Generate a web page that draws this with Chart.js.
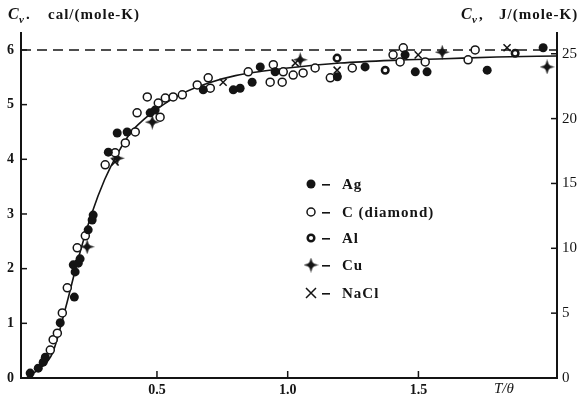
<!DOCTYPE html>
<html>
<head>
<meta charset="utf-8">
<script src="https://cdn.jsdelivr.net/npm/chart.js@4.4.0/dist/chart.umd.min.js"></script>
<style>
  body { margin: 0; background: #fff; }
  #wrap { width: 579px; height: 395px; }
</style>
</head>
<body>
<div id="wrap"><canvas id="myChart" width="579" height="395"></canvas></div>
<script>
// Debye curve (T/θ, Cv cal/(mole-K))
let curveX = [0, 0.05, 0.1, 0.15, 0.2, 0.25, 0.3, 0.35, 0.4, 0.45, 0.5, 0.6, 0.7, 0.8, 0.9, 1.0, 1.2, 1.4, 1.6, 1.8, 2.03];
let curveY = [0, 0.17, 0.45, 1.27, 2.20, 3.00, 3.63, 4.11, 4.49, 4.73, 4.92, 5.21, 5.40, 5.53, 5.61, 5.67, 5.76, 5.81, 5.84, 5.87, 5.89];

// classical limit 3R
let limitX = [-0.02, 2.03];
let limitY = [6, 6];

// measured points
let agX = [0.015, 0.046, 0.065, 0.073, 0.13, 0.184, 0.187, 0.18, 0.199, 0.206, 0.237, 0.252, 0.256, 0.314, 0.348, 0.386, 0.474, 0.493, 0.677, 0.792, 0.818, 0.864, 0.895, 0.952, 1.19, 1.296, 1.449, 1.488, 1.533, 1.763, 1.977];
let agY = [0.09, 0.18, 0.29, 0.38, 1.01, 1.48, 1.94, 2.07, 2.10, 2.18, 2.71, 2.89, 2.98, 4.13, 4.48, 4.50, 4.85, 4.90, 5.27, 5.27, 5.30, 5.41, 5.69, 5.60, 5.51, 5.69, 5.91, 5.60, 5.60, 5.63, 6.04];

let cX = [0.092, 0.103, 0.119, 0.138, 0.157, 0.195, 0.226, 0.302, 0.34, 0.379, 0.417, 0.424, 0.512, 0.463, 0.505, 0.532, 0.562, 0.597, 0.654, 0.696, 0.704, 0.849, 0.933, 0.945, 0.979, 0.983, 1.021, 1.059, 1.105, 1.163, 1.247, 1.403, 1.43, 1.442, 1.526, 1.69, 1.717];
let cY = [0.51, 0.70, 0.82, 1.19, 1.65, 2.38, 2.60, 3.90, 4.12, 4.30, 4.50, 4.85, 4.77, 5.14, 5.03, 5.12, 5.14, 5.18, 5.36, 5.49, 5.30, 5.60, 5.41, 5.73, 5.41, 5.60, 5.54, 5.58, 5.67, 5.49, 5.67, 5.91, 5.78, 6.04, 5.78, 5.82, 6.00];

let alX = [1.189, 1.373, 1.87];
let alY = [5.85, 5.63, 5.94];

let cuX = [0.233, 0.348, 0.482, 1.048, 1.591, 1.992];
let cuY = [2.40, 4.02, 4.68, 5.82, 5.96, 5.69];

let naclX = [0.34, 0.753, 1.029, 1.189, 1.499, 1.839];
let naclY = [3.95, 5.41, 5.76, 5.63, 5.91, 6.04];

// axes
let xTicks = [0.5, 1.0, 1.5];
let xTickLabels = ['0.5', '1.0', '1.5'];
let yTicks = [0, 1, 2, 3, 4, 5, 6];
let y2Ticks = [0, 5, 10, 15, 20, 25];

let legendNames = ['Ag', 'C (diamond)', 'Al', 'Cu', 'NaCl'];

const ink = '#141414';
const pts = (xs, ys) => xs.map((x, i) => ({x: x, y: ys[i]}));

// copper marker: little filled four point star
let cuMark = document.createElement('canvas');
cuMark.width = 15; cuMark.height = 15;
(function () {
  let c = cuMark.getContext('2d');
  c.fillStyle = ink;
  c.beginPath();
  c.moveTo(7.5, 0); c.lineTo(9.3, 5.7); c.lineTo(15, 7.5); c.lineTo(9.3, 9.3);
  c.lineTo(7.5, 15); c.lineTo(5.7, 9.3); c.lineTo(0, 7.5); c.lineTo(5.7, 5.7);
  c.closePath(); c.fill();
  c.beginPath(); c.arc(7.5, 7.5, 3, 0, Math.PI * 2); c.fill();
})();

function drawMark(ctx, kind, x, y) {
  ctx.save();
  ctx.strokeStyle = ink; ctx.fillStyle = ink;
  if (kind === 0) {
    ctx.beginPath(); ctx.arc(x, y, 4.5, 0, Math.PI * 2); ctx.fill();
  } else if (kind === 1) {
    ctx.lineWidth = 1.5; ctx.fillStyle = '#fff';
    ctx.beginPath(); ctx.arc(x, y, 4, 0, Math.PI * 2); ctx.fill(); ctx.stroke();
  } else if (kind === 2) {
    ctx.lineWidth = 2.5; ctx.fillStyle = '#fff';
    ctx.beginPath(); ctx.arc(x, y, 3.3, 0, Math.PI * 2); ctx.fill(); ctx.stroke();
  } else if (kind === 3) {
    ctx.drawImage(cuMark, x - 7.5, y - 7.5);
  } else {
    ctx.lineWidth = 1.5;
    ctx.beginPath();
    ctx.moveTo(x - 5, y - 5); ctx.lineTo(x + 5, y + 5);
    ctx.moveTo(x + 5, y - 5); ctx.lineTo(x - 5, y + 5);
    ctx.stroke();
  }
  ctx.restore();
}

const extras = {
  id: 'extras',
  afterDraw(chart) {
    const ctx = chart.ctx;
    const xs = chart.scales.x, ys = chart.scales.y, y2 = chart.scales.y2;
    ctx.save();
    ctx.strokeStyle = ink; ctx.lineWidth = 1.5;
    // inward tick marks
    yTicks.forEach(v => {
      let p = ys.getPixelForValue(v);
      ctx.beginPath(); ctx.moveTo(xs.left, p); ctx.lineTo(xs.left + 6, p); ctx.stroke();
    });
    y2Ticks.forEach(v => {
      let p = y2.getPixelForValue(v);
      ctx.beginPath(); ctx.moveTo(xs.right, p); ctx.lineTo(xs.right - 6, p); ctx.stroke();
    });
    xTicks.forEach(v => {
      let p = xs.getPixelForValue(v);
      ctx.beginPath(); ctx.moveTo(p, ys.bottom); ctx.lineTo(p, ys.bottom - 7); ctx.stroke();
    });

    // axis titles
    ctx.fillStyle = ink;
    ctx.textBaseline = 'alphabetic';
    ctx.font = 'italic bold 16px "Liberation Serif"';
    ctx.fillText('C', 8, 19);
    ctx.fillText('C', 461, 19);
    ctx.font = 'italic bold 11px "Liberation Serif"';
    ctx.fillText('v', 19, 23);
    ctx.fillText('v', 472, 23);
    ctx.font = 'bold 15px "Liberation Serif"';
    ctx.letterSpacing = '1px';
    ctx.fillText('.', 26, 19);
    ctx.fillText(',', 479, 19);
    ctx.fillText('cal/(mole-K)', 48, 19);
    ctx.fillText('J/(mole-K)', 499, 19);
    ctx.letterSpacing = '0px';
    ctx.font = 'italic 15px "Liberation Serif"';
    ctx.fillText('T/\u03b8', 494, 393);

    // legend
    let ly = [184, 212, 238, 265, 293];
    ctx.font = 'bold 15px "Liberation Serif"';
    ctx.letterSpacing = '1px';
    legendNames.forEach((name, i) => {
      drawMark(ctx, i, 311, ly[i]);
      ctx.fillRect(322, ly[i], 8, 1.6);
      ctx.fillText(name, 342, ly[i] + 5);
    });
    ctx.restore();
  }
};

const fixTicks = (list) => (scale) => { scale.ticks = list.map(v => ({value: v})); };

let chart = new Chart(document.getElementById('myChart'), {
  type: 'scatter',
  data: {
    datasets: [
      {data: pts(curveX, curveY), showLine: true, borderColor: ink, borderWidth: 1.6,
       pointRadius: 0, cubicInterpolationMode: 'monotone', order: 10},
      {data: pts(limitX, limitY), showLine: true, borderColor: ink, borderWidth: 1.5,
       borderDash: [10, 6], pointRadius: 0, order: 9},
      {label: 'Ag', data: pts(agX, agY), pointStyle: 'circle', pointRadius: 4.5,
       backgroundColor: ink, borderColor: ink, borderWidth: 0},
      {label: 'C (diamond)', data: pts(cX, cY), pointStyle: 'circle', pointRadius: 4,
       backgroundColor: '#fff', borderColor: ink, borderWidth: 1.5},
      {label: 'Al', data: pts(alX, alY), pointStyle: 'circle', pointRadius: 3.3,
       backgroundColor: '#fff', borderColor: ink, borderWidth: 2.5},
      {label: 'Cu', data: pts(cuX, cuY), pointStyle: cuMark, pointRadius: 7},
      {label: 'NaCl', data: pts(naclX, naclY), pointStyle: 'crossRot', pointRadius: 5,
       borderColor: ink, borderWidth: 1.5}
    ]
  },
  options: {
    responsive: false,
    animation: false,
    events: [],
    layout: {padding: {top: 33, left: 0, right: 0, bottom: 0}},
    plugins: {legend: {display: false}, tooltip: {enabled: false}},
    scales: {
      x: {
        type: 'linear', min: -0.02, max: 2.03,
        afterBuildTicks: fixTicks(xTicks),
        afterFit: (s) => { s.height = 17; },
        grid: {display: false, drawTicks: false},
        border: {display: true, color: ink, width: 2},
        ticks: {
          padding: 4, color: ink,
          font: {family: 'Liberation Serif', size: 14, weight: 'bold'},
          callback: (v) => xTickLabels[xTicks.indexOf(v)]
        }
      },
      y: {
        position: 'left', min: 0, max: 6.31,
        afterBuildTicks: fixTicks(yTicks),
        afterFit: (s) => { s.width = 21; },
        grid: {display: false, drawTicks: false},
        border: {display: true, color: ink, width: 2},
        ticks: {padding: 7, color: ink, font: {family: 'Liberation Serif', size: 14, weight: 'bold'}}
      },
      y2: {
        position: 'right', min: 0, max: 26.6,
        afterBuildTicks: fixTicks(y2Ticks),
        afterFit: (s) => { s.width = 22; },
        grid: {display: false, drawTicks: false},
        border: {display: true, color: ink, width: 2},
        ticks: {padding: 5, color: ink, font: {family: 'Liberation Serif', size: 15}}
      }
    }
  },
  plugins: [extras]
});
</script>
</body>
</html>
